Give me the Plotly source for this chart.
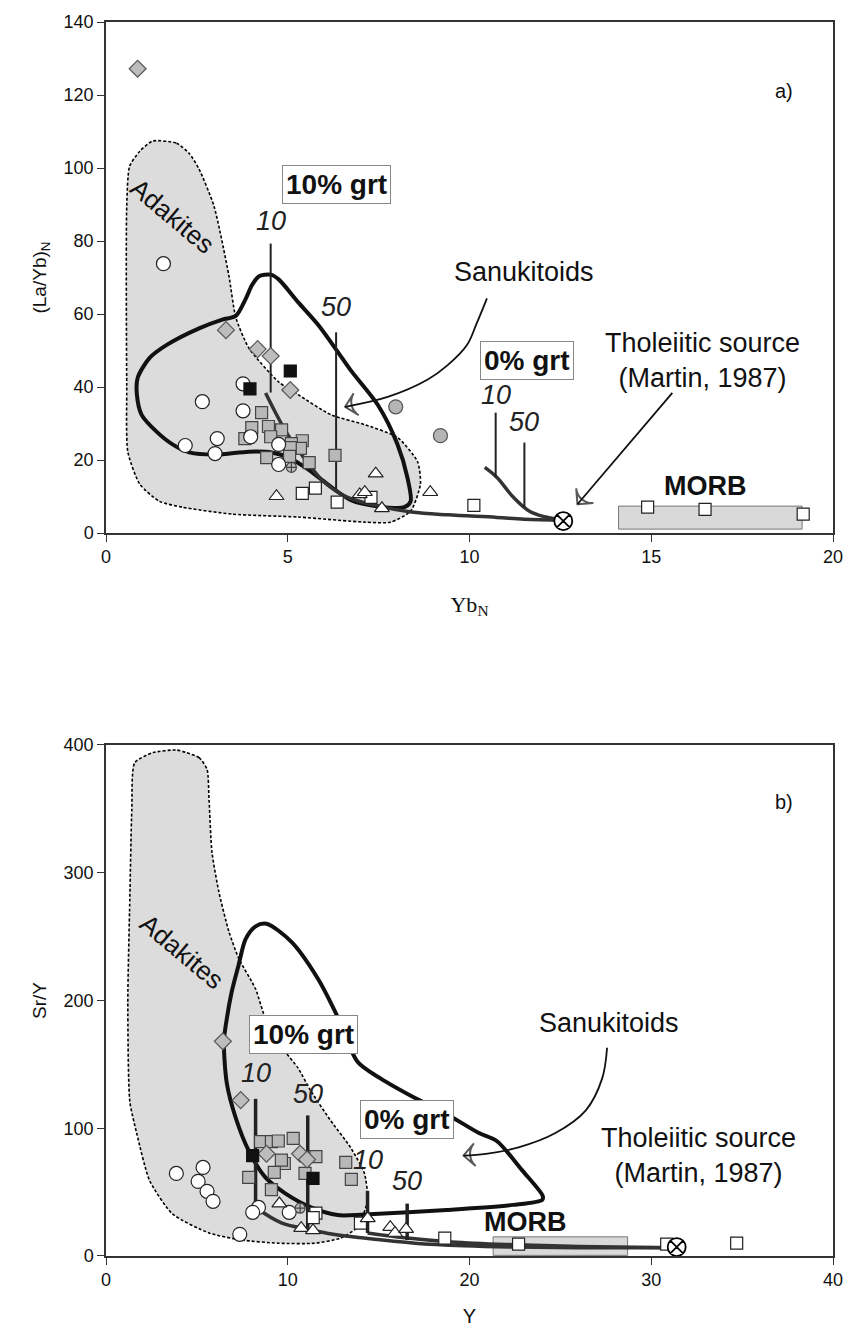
import plotly.graph_objects as go

# ---------------- Panel a) data : Yb_N vs (La/Yb)_N ----------------
adak_a_x = [1.28, 1.94, 2.29, 2.56, 2.97, 3.38, 3.57, 3.93, 4.75, 5.29, 6.19, 7.12, 8.02, 8.57, 8.65, 8.38, 7.83, 7.12, 5.29, 3.47, 2.10, 1.47, 0.93, 0.60, 0.57, 0.57, 0.65, 0.93, 1.28]
adak_a_y = [107.4, 106.8, 104.0, 99.7, 89.6, 70.6, 59.1, 50.7, 41.4, 37.9, 32.4, 29.7, 26.2, 19.6, 13.4, 6.0, 3.0, 3.0, 4.4, 5.2, 7.1, 8.7, 13.4, 22.3, 40.6, 89.6, 100.5, 104.6, 107.4]

sanu_a_x = [3.57, 3.85, 4.01, 4.20, 4.53, 4.75, 5.29, 5.84, 6.38, 6.74, 7.48, 8.02, 8.29, 8.38, 8.21, 7.48, 6.74, 6.03, 5.48, 5.02, 4.56, 3.93, 3.03, 2.29, 1.83, 1.39, 0.98, 0.85, 0.87, 1.20, 1.66, 2.56, 3.20, 3.57]
sanu_a_y = [59.5, 64.3, 67.8, 70.3, 70.8, 69.5, 63.2, 57.0, 49.6, 44.5, 35.1, 24.3, 15.3, 8.7, 7.1, 7.3, 9.0, 13.9, 18.0, 20.7, 22.1, 22.3, 21.5, 22.1, 24.3, 27.8, 32.4, 37.9, 42.5, 48.0, 51.5, 56.1, 58.5, 59.5]

melt10_a_x = [4.39, 5.00, 5.65, 6.00, 6.60, 7.50, 8.40, 9.40, 10.75, 11.50, 12.58]
melt10_a_y = [38.4, 27.0, 18.0, 14.0, 10.0, 7.4, 5.8, 5.0, 4.3, 3.8, 3.5]
melt0_a_x = [10.42, 10.75, 11.21, 11.65, 12.10, 12.58]
melt0_a_y = [18.0, 15.3, 9.8, 6.0, 4.4, 3.5]

ticks_a = [  # x, y_bottom, y_top, label, label_y
    (4.53, 38.5, 79.3, "10", 85.5),
    (6.33, 12.0, 55.0, "50", 62.0),
    (10.72, 15.3, 33.0, "10", 37.9),
    (11.51, 7.1, 24.8, "50", 30.5),
]

src_a = (12.58, 3.3)
morb_box_a = (14.1, 19.15, 1.1, 7.4)

gdia_a_x = [0.87, 3.30, 4.17, 4.53, 5.07]
gdia_a_y = [127.2, 55.6, 50.4, 48.5, 39.2]
bsq_a_x = [5.07, 3.96]
bsq_a_y = [44.4, 39.5]
wcir_a_x = [1.58, 2.65, 3.77, 3.77, 2.18, 3.06, 3.00, 3.98, 4.75, 4.75]
wcir_a_y = [73.8, 36.0, 40.9, 33.5, 24.0, 25.9, 21.8, 26.4, 24.3, 18.8]
gcir_a_x = [7.97, 9.20]
gcir_a_y = [34.6, 26.7]
gsq_a_x = [4.28, 4.01, 4.47, 4.83, 3.82, 4.53, 5.40, 5.10, 5.35, 5.07, 4.42, 5.05, 5.59, 6.30]
gsq_a_y = [33.0, 28.9, 29.2, 28.3, 25.9, 26.4, 25.3, 24.5, 23.2, 23.4, 20.7, 21.0, 19.3, 21.3]
cross_a_x = [5.10]
cross_a_y = [18.0]
wsq_a_x = [5.40, 5.76, 6.36, 7.29, 10.12, 14.9, 16.48, 19.18]
wsq_a_y = [10.9, 12.3, 8.5, 9.8, 7.6, 7.1, 6.5, 5.2]
wtri_a_x = [4.69, 7.42, 6.98, 7.12, 7.59, 8.92]
wtri_a_y = [10.1, 16.3, 10.6, 11.2, 6.8, 11.2]

sanu_arrow_a_x = [10.48, 10.2, 9.93, 9.4, 8.84, 7.75, 6.58]
sanu_arrow_a_y = [64.3, 57.5, 51.5, 46.0, 42.0, 37.3, 34.6]
src_arrow_a_x = [15.58, 12.97]
src_arrow_a_y = [38.4, 7.9]

# ---------------- Panel b) data : Y vs Sr/Y ----------------
adak_b_x = [4.41, 5.12, 5.56, 5.67, 5.83, 6.21, 6.76, 7.30, 8.23, 8.77, 9.86, 10.57, 11.28, 12.37, 13.46, 14.22, 14.39, 13.84, 12.90, 11.50, 9.48, 7.47, 5.67, 3.65, 2.40, 1.69, 1.31, 1.20, 1.31, 1.42, 1.58, 2.60, 3.87, 4.41]
adak_b_y = [394, 390, 381, 357, 316, 285, 254, 233, 209, 186, 160, 147, 129, 105.8, 84.8, 64.6, 43.6, 22.6, 14, 10, 10, 12.5, 18, 33, 59, 96, 121, 199, 279, 349, 386, 394, 396, 394]

sanu_b_x = [8.83, 10.19, 11.66, 12.75, 13.84, 15.10, 16.95, 18.75, 20.55, 21.50, 22.90, 24.03, 24.00, 22.40, 18.75, 14.22, 12.75, 11.28, 9.86, 8.77, 7.85, 7.14, 6.65, 6.49, 6.65, 6.92, 7.30, 7.68, 8.23, 8.83]
sanu_b_y = [260, 246, 217, 187, 152, 139, 124, 111, 96, 90, 67, 47, 44, 40, 36, 32.5, 32, 38, 49, 61.5, 82.5, 108, 135, 168, 186, 207, 228, 248, 258, 260]

melt10_b_x = [8.23, 9.65, 11.10, 12.50, 14.20, 17.00, 19.70, 22.40, 26.00, 31.40]
melt10_b_y = [38, 26, 21, 17, 14, 10, 8, 7, 6.5, 6.5]
melt0_b_x = [14.39, 16.57, 19.0, 22.0, 26.0, 31.4]
melt0_b_y = [18, 14, 11, 9, 7.5, 6.5]

ticks_b = [
    (8.23, 38, 123, "10", 143),
    (11.10, 22, 110, "50", 127),
    (14.39, 18, 51, "10", 75),
    (16.57, 12.5, 41, "50", 59),
]

src_b = (31.4, 7.0)
morb_box_b = (21.3, 28.7, 0.5, 15.0)

gdia_b_x = [6.43, 7.41, 8.83, 10.68, 11.06]
gdia_b_y = [168, 122, 80, 80, 75.5]
bsq_b_x = [8.07, 11.39]
bsq_b_y = [78.6, 60.7]
wcir_b_x = [3.87, 5.34, 5.07, 5.56, 5.89, 8.39, 8.07, 10.08, 7.36]
wcir_b_y = [64.6, 69.3, 58.4, 50.6, 42.8, 38.0, 34.2, 34.2, 17.0]
gsq_b_x = [8.50, 9.10, 9.48, 10.30, 7.85, 9.81, 9.26, 9.10, 10.95, 11.55, 13.19, 13.50, 9.65]
gsq_b_y = [89.5, 89.5, 90.0, 92.0, 61.5, 72.4, 65.4, 52.0, 64.6, 77.8, 73.2, 60.0, 75.0]
cross_b_x = [10.68]
cross_b_y = [37.4]
wsq_b_x = [11.55, 11.40, 14.00, 18.64, 22.70, 30.85, 34.70]
wsq_b_y = [33.5, 30.0, 25.7, 14.0, 9.3, 9.3, 10.0]
wtri_b_x = [9.54, 10.74, 11.39, 15.64, 15.90, 16.51, 14.40]
wtri_b_y = [41, 21.8, 20.0, 22.6, 18.0, 21.0, 29.5]

sanu_arrow_b_x = [27.57, 27.3, 26.4, 24.7, 22.7, 20.9, 19.67]
sanu_arrow_b_y = [163, 139, 114, 96, 85, 80, 78.6]

# ---------------- figure ----------------
fig = go.Figure()
FONT = "Liberation Sans, Arial, sans-serif"


def arrow_line(xa, ya, ax_, ay_, spline=True):
    n = len(ax_)
    fig.add_trace(go.Scatter(x=ax_, y=ay_, xaxis=xa, yaxis=ya, mode="lines+markers",
                             line=dict(color="#111", width=1.8, shape="spline" if spline else "linear"),
                             marker=dict(symbol="arrow-wide-open", size=[0] * (n - 1) + [16],
                                         angleref="previous", color="#111",
                                         line=dict(color="#111", width=2)),
                             hoverinfo="skip", showlegend=False))


def add_panel(xa, ya, adx, ady, snx, sny, m10x, m10y, m0x, m0y, ticks, src, morb,
              arrx, arry, pts):
    # adakite field
    fig.add_trace(go.Scatter(x=adx, y=ady, xaxis=xa, yaxis=ya, mode="lines",
                             line=dict(color="black", width=1.6, dash="3px,2px", shape="spline", smoothing=0.6),
                             fill="toself", fillcolor="#dcdcdc", hoverinfo="skip", showlegend=False))
    # MORB box
    x0, x1, y0, y1 = morb
    fig.add_trace(go.Scatter(x=[x0, x1, x1, x0, x0], y=[y0, y0, y1, y1, y0], xaxis=xa, yaxis=ya,
                             mode="lines", line=dict(color="#777", width=1), fill="toself",
                             fillcolor="#d9d9d9", hoverinfo="skip", showlegend=False))
    # sanukitoid field
    fig.add_trace(go.Scatter(x=snx, y=sny, xaxis=xa, yaxis=ya, mode="lines",
                             line=dict(color="#111", width=4, shape="spline", smoothing=0.8),
                             hoverinfo="skip", showlegend=False))
    # melting curves
    for mx, my in ((m10x, m10y), (m0x, m0y)):
        fig.add_trace(go.Scatter(x=mx, y=my, xaxis=xa, yaxis=ya, mode="lines",
                                 line=dict(color="#333", width=3.5, shape="spline"),
                                 hoverinfo="skip", showlegend=False))
    # melt-fraction ticks
    for tx, tb, tt, lab, ly in ticks:
        fig.add_trace(go.Scatter(x=[tx, tx], y=[tb, tt], xaxis=xa, yaxis=ya, mode="lines",
                                 line=dict(color="#222", width=2 if xa == "x" else 3.5),
                                 hoverinfo="skip", showlegend=False))
        fig.add_annotation(x=tx, y=ly, xref=xa, yref=ya, text="<i>" + lab + "</i>", showarrow=False,
                           font=dict(family=FONT, size=27, color="#222"))
    # curved arrow to sanukitoids
    arrow_line(xa, ya, arrx, arry)
    # data points
    for (px, py, sym, fillc, linec, size) in pts:
        fig.add_trace(go.Scatter(x=px, y=py, xaxis=xa, yaxis=ya, mode="markers",
                                 marker=dict(symbol=sym, color=fillc, size=size,
                                             line=dict(color=linec, width=1.2)),
                                 hoverinfo="skip", showlegend=False))
    # source
    fig.add_trace(go.Scatter(x=[src[0]], y=[src[1]], xaxis=xa, yaxis=ya, mode="markers",
                             marker=dict(symbol="circle-x", color="white", size=18,
                                         line=dict(color="black", width=1.8)),
                             hoverinfo="skip", showlegend=False))


pts_a = [
    (gsq_a_x, gsq_a_y, "square", "#b8b8b8", "#444", 12),
    (wcir_a_x, wcir_a_y, "circle", "white", "#222", 14),
    (gdia_a_x, gdia_a_y, "diamond", "#bdbdbd", "#555", 13),
    (bsq_a_x, bsq_a_y, "square", "#111", "#111", 12),
    (gcir_a_x, gcir_a_y, "circle", "#b5b5b5", "#555", 14),
    (cross_a_x, cross_a_y, "circle-cross", "#bbbbbb", "#444", 10),
    (wsq_a_x, wsq_a_y, "square", "white", "#222", 12),
    (wtri_a_x, wtri_a_y, "triangle-up", "white", "#222", 13),
]
pts_b = [
    (gsq_b_x, gsq_b_y, "square", "#b8b8b8", "#444", 12),
    (wcir_b_x, wcir_b_y, "circle", "white", "#222", 14),
    (gdia_b_x, gdia_b_y, "diamond", "#bdbdbd", "#555", 13),
    (bsq_b_x, bsq_b_y, "square", "#111", "#111", 12),
    (cross_b_x, cross_b_y, "circle-cross", "#bbbbbb", "#444", 10),
    (wsq_b_x, wsq_b_y, "square", "white", "#222", 12),
    (wtri_b_x, wtri_b_y, "triangle-up", "white", "#222", 13),
]

add_panel("x", "y", adak_a_x, adak_a_y, sanu_a_x, sanu_a_y, melt10_a_x, melt10_a_y,
          melt0_a_x, melt0_a_y, ticks_a, src_a, morb_box_a, sanu_arrow_a_x, sanu_arrow_a_y, pts_a)
add_panel("x2", "y2", adak_b_x, adak_b_y, sanu_b_x, sanu_b_y, melt10_b_x, melt10_b_y,
          melt0_b_x, melt0_b_y, ticks_b, src_b, morb_box_b, sanu_arrow_b_x, sanu_arrow_b_y, pts_b)
arrow_line("x", "y", src_arrow_a_x, src_arrow_a_y, spline=False)

# ---------------- text labels ----------------
def txt(x, y, ref, s, size=20, bold=False, angle=0, box=False, xa="x"):
    fig.add_annotation(x=x, y=y, xref=xa, yref=ref, text=("<b>%s</b>" % s) if bold else s,
                       showarrow=False, textangle=angle,
                       font=dict(family=FONT, size=size, color="#111"),
                       bordercolor="#888" if box else None, borderwidth=1 if box else 0,
                       borderpad=3 if box else 0, bgcolor="white" if box else None)

# panel a
txt(1.83, 87, "y", "Adakites", size=26, angle=40)
txt(6.33, 95.5, "y", "10% grt", size=28, bold=True, box=True)
txt(11.57, 47.4, "y", "0% grt", size=28, bold=True, box=True)
txt(11.5, 71.5, "y", "Sanukitoids", size=27)
txt(16.4, 47.4, "y", "Tholeiitic source<br>(Martin, 1987)", size=27)
txt(16.5, 12.8, "y", "MORB", size=27, bold=True)
txt(18.66, 121, "y", "a)", size=20)

# panel b
txt(4.2, 238, "y2", "Adakites", size=26, angle=40, xa="x2")
txt(10.85, 173, "y2", "10% grt", size=28, bold=True, box=True, xa="x2")
txt(16.57, 107, "y2", "0% grt", size=28, bold=True, box=True, xa="x2")
txt(27.7, 182, "y2", "Sanukitoids", size=27, xa="x2")
txt(32.6, 78.6, "y2", "Tholeiitic source<br>(Martin, 1987)", size=27, xa="x2")
txt(23.1, 26.5, "y2", "MORB", size=27, bold=True, xa="x2")
txt(37.3, 355, "y2", "b)", size=20, xa="x2")

axis_common = dict(showgrid=False, zeroline=False, showline=True, linecolor="#333", linewidth=1.5,
                   mirror=True, ticks="outside", ticklen=7, tickwidth=1.3, tickcolor="#333",
                   tickfont=dict(family=FONT, size=18, color="#111"))

fig.update_layout(
    width=855, height=1339, autosize=False,
    margin=dict(l=106, r=16, t=15, b=83),
    paper_bgcolor="white", plot_bgcolor="white",
    showlegend=False,
    xaxis=dict(domain=[0, 1], range=[0, 20], dtick=5, anchor="y",
               title=dict(text="Yb<sub>N</sub>", standoff=30,
                          font=dict(family="Liberation Serif, Times New Roman, serif", size=22, color="#111")),
               **axis_common),
    yaxis=dict(domain=[0.5858, 1], range=[0, 140], dtick=20, anchor="x",
               title=dict(text="(La/Yb)<sub>N</sub>", standoff=12,
                          font=dict(family=FONT, size=19, color="#111")),
               **axis_common),
    xaxis2=dict(domain=[0, 1], range=[0, 40], dtick=10, anchor="y2",
                title=dict(text="Y", standoff=20, font=dict(family=FONT, size=20, color="#111")),
                **axis_common),
    yaxis2=dict(domain=[0, 0.4142], range=[0, 400], dtick=100, anchor="x2",
                title=dict(text="Sr/Y", standoff=12, font=dict(family=FONT, size=19, color="#111")),
                **axis_common),
)

fig.write_html("out.html")
